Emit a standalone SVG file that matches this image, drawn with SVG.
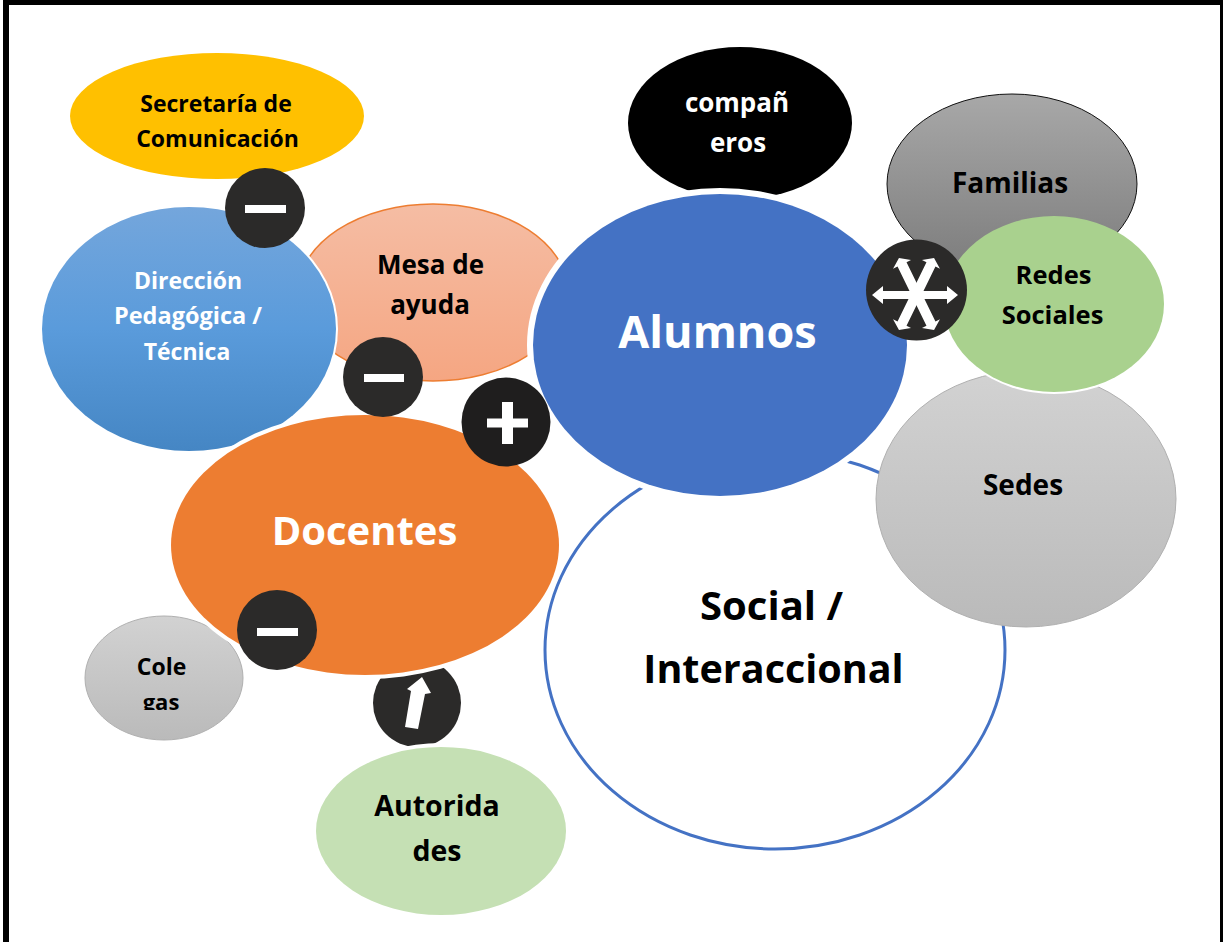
<svg xmlns="http://www.w3.org/2000/svg" xmlns:xlink="http://www.w3.org/1999/xlink" width="1223" height="942" viewBox="0 0 1223 942">
<style>
text{font-family:"Open Sans","Liberation Sans",sans-serif;font-weight:700;text-anchor:middle;fill:#000}
.w{fill:#fff}
.halo{fill:#fff}
.badge{fill:#2b2a29}
.sign{fill:#fff}
</style>
<defs>
<linearGradient id="gBlue" x1="0" y1="0" x2="0" y2="1"><stop offset="0" stop-color="#74a6dc"/><stop offset=".5" stop-color="#5a9bdb"/><stop offset="1" stop-color="#4586c4"/></linearGradient>
<linearGradient id="gPeach" x1="0" y1="0" x2="0" y2="1"><stop offset="0" stop-color="#f5bda4"/><stop offset="1" stop-color="#f5a682"/></linearGradient>
<linearGradient id="gDark" x1="0" y1="0" x2="0" y2="1"><stop offset="0" stop-color="#a8a8a8"/><stop offset="1" stop-color="#7c7c7c"/></linearGradient>
<linearGradient id="gLight" x1="0" y1="0" x2="0" y2="1"><stop offset="0" stop-color="#d2d2d2"/><stop offset="1" stop-color="#bababa"/></linearGradient>
<polygon id="dblH" points="-43,0 -32,-9 -32,-4 32,-4 32,-9 43,0 32,9 32,4 -32,4 -32,9"/>
<polygon id="dblD" points="-40,0 -33,-10 -33,-5 33,-5 33,-10 40,0 33,10 33,5 -33,5 -33,10"/>
<clipPath id="clipGas"><rect x="120" y="680" width="90" height="30"/></clipPath>
</defs>
<rect x="0" y="0" width="1223" height="942" fill="#fff"/>
<g id="node-social">
<ellipse cx="775" cy="650" rx="230" ry="199" fill="#fff" stroke="#4472c4" stroke-width="3"/>
<text x="771.500" y="620" font-size="40">Social /</text>
<text x="773.500" y="683" font-size="39.500">Interaccional</text>
</g>
<g id="node-sedes">
<ellipse cx="1026" cy="499" rx="150" ry="128" fill="url(#gLight)" stroke="#b0b0b0" stroke-width="1"/>
<text x="1023" y="495" font-size="28">Sedes</text>
<ellipse cx="1054" cy="304" rx="112" ry="90" class="halo"/>
</g>
<g id="node-familias">
<ellipse cx="1012" cy="184" rx="125" ry="90" fill="url(#gDark)" stroke="#111" stroke-width="1"/>
<text x="1010" y="193" font-size="28">Familias</text>
</g>
<g id="node-redes">
<ellipse cx="1054" cy="304" rx="110" ry="88" fill="#a9d18e"/>
<text x="1053.500" y="284" font-size="25.500">Redes</text>
<text x="1052.500" y="324" font-size="25.500">Sociales</text>
</g>
<g id="node-companeros">
<ellipse cx="740" cy="123" rx="112" ry="76" fill="#000"/>
<text x="737" y="112" font-size="26" class="w">compañ</text>
<text x="738" y="152" font-size="26" class="w">eros</text>
</g>
<g id="node-secretaria">
<ellipse cx="217" cy="116" rx="147" ry="63" fill="#ffc000"/>
<text x="216" y="112" font-size="23">Secretaría de</text>
<text x="217.500" y="147" font-size="23">Comunicación</text>
</g>
<g id="node-mesa">
<ellipse cx="433" cy="292.500" rx="135" ry="88.500" fill="url(#gPeach)" stroke="#ed7d31" stroke-width="1.500"/>
<text x="430.500" y="274" font-size="26">Mesa de</text>
<text x="430" y="314" font-size="26">ayuda</text>
</g>
<g id="node-direccion">
<ellipse cx="189" cy="329" rx="149" ry="124" class="halo"/>
<ellipse cx="189" cy="329" rx="147" ry="122" fill="url(#gBlue)"/>
<text x="188" y="289" font-size="23" class="w">Dirección</text>
<text x="188" y="324" font-size="23.500" class="w">Pedagógica /</text>
<text x="187" y="360" font-size="23" class="w">Técnica</text>
</g>
<g id="node-alumnos">
<ellipse cx="720" cy="345" rx="193" ry="157" class="halo"/>
<ellipse cx="720" cy="345" rx="187" ry="151" fill="#4472c4"/>
<text x="717.500" y="348" font-size="45" class="w">Alumnos</text>
</g>
<g id="connectors">
<g id="badge-up">
<circle cx="417" cy="703" r="44" class="badge"/>
<polygon class="sign" points="422,677 431,693 425,694 418,729 405,727 411,691 407,689"/>
</g>
</g>
<g id="node-autoridades">
<ellipse cx="441" cy="831" rx="129" ry="88" class="halo"/>
<ellipse cx="441" cy="831" rx="125" ry="84" fill="#c5e0b4"/>
<text x="437" y="816" font-size="28.500">Autorida</text>
<text x="437" y="861" font-size="28.500">des</text>
</g>
<g id="node-colegas">
<ellipse cx="164" cy="678" rx="79" ry="62" fill="url(#gLight)" stroke="#b0b0b0" stroke-width="1"/>
<text x="161.500" y="675" font-size="23">Cole</text>
<text x="161" y="710" font-size="22" clip-path="url(#clipGas)">gas</text>
</g>
<g id="node-docentes">
<ellipse cx="365" cy="545" rx="198" ry="134" class="halo"/>
<ellipse cx="365" cy="545" rx="194" ry="130" fill="#ed7d31"/>
<text x="364.500" y="545" font-size="40" class="w">Docentes</text>
</g>
<g id="badges">
<g id="badge-minus-1"><circle cx="265" cy="208" r="40" class="badge"/><rect x="245" y="205" width="41" height="8" class="sign"/></g>
<g id="badge-minus-2"><circle cx="383" cy="377" r="40" class="badge"/><rect x="364" y="374" width="40" height="8" class="sign"/></g>
<g id="badge-plus"><circle cx="506" cy="422" r="44.500" fill="#1f1e1e"/><path class="sign" d="M502 402h11v16.500h15v9h-15v16.500h-11v-16.500h-15v-9h15z"/></g>
<g id="badge-minus-3"><circle cx="277" cy="630" r="40" class="badge"/><rect x="257" y="628" width="41" height="8" class="sign"/></g>
<g id="badge-star"><circle cx="916.500" cy="290" r="50.500" class="badge"/>
<use xlink:href="#dblD" href="#dblD" class="sign" transform="translate(916.500,294) rotate(64)"/>
<use xlink:href="#dblD" href="#dblD" class="sign" transform="translate(916.500,294) rotate(-64)"/>
<use xlink:href="#dblH" href="#dblH" class="sign" transform="translate(915,295)"/>
</g>
</g>
<path id="frame" d="M3 942V0H1223V942H1220V5H9V942Z" fill="#000"/>
</svg>
